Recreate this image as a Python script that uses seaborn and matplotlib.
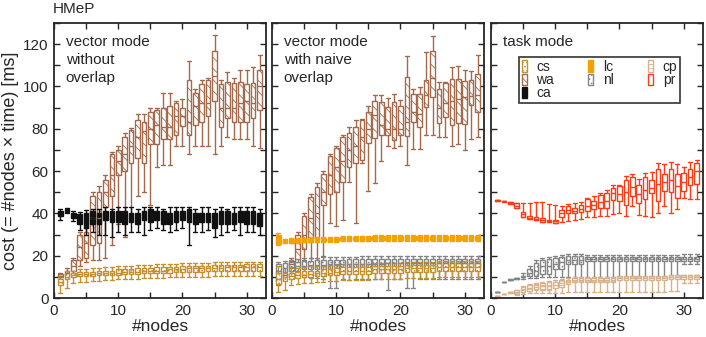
import matplotlib
matplotlib.use("Agg")
import matplotlib.pyplot as plt
import seaborn as sns
import numpy as np
import pandas as pd
from matplotlib.patches import Patch
from matplotlib.ticker import MultipleLocator

# ---------------- data (whislo, q1, median, q3, whishi) per node count ----------------
nodes = list(range(1, 33))

wa_no = [(9,10,10.5,11.5,12),(10,11,12,13,14),(11,13,15,18,19),(15,18,24,30,31),
         (17,19,26,31,33),(18,25,38,48,50),(18,26,38,50,53),(19,43,50,56,58),
         (25,48,58,68,69),(35,58,65,70,72),(29,60,68,76,78),(38,64,72,79.5,80.5),
         (48,66,76,84,87),(50,64,79,83,87),(44,73,80,88,90),(62,73,82,89,90),
         (63,75,81,90,97),(63,75,81,91,97),(72,77,86,92,93),(72,81.5,86,90,94),
         (68,77,83,103,112),(72,82,91,97,99),(72,83,92,101,103),(72,86,92,103,104),
         (68,93,105,117,124.5),(72,81,90,101,103),(76,85,90,102,107),(75,83,90,101.5,104),
         (75,83,92,102,108),(75,83,93,101,108),(72,85,92,101.5,109),(71,89,100,108,115)]

cs_no = [(2.5,6,7.5,9,10.5),(4.5,9,10,12,13),(7,10,11,12,13),(7.5,10.5,11.5,12.5,13.5),
         (7.5,10.5,11.5,12.5,13.5),(8,10.5,11.5,12.5,14),(8,11,12,13,14),(8.5,11,12,13,14.5),
         (8.5,11,12,13,14.5),(9,11,12,13.5,15),(9,11.5,12.5,13.5,15),(9,11.5,12.5,13.5,15),
         (9,11.5,12.5,14,15.5),(9.5,12,13,14,15.5),(9.5,12,13,14,15.5),(9.5,12,13,14.5,16),
         (9.5,12,13,14.5,16),(10,12,13.5,14.5,16),(10,12.5,13.5,14.5,16),(10,12.5,13.5,15,16.5),
         (10,12.5,14,15,16.5),(10,12.5,14,15,16.5),(10,12.5,14,15,16.5),(10,13,14,15,16.5),
         (10.5,13,14,15.5,17),(10.5,13,14,15.5,17),(10.5,13,14.5,15.5,17),(10.5,13,14.5,15.5,17),
         (10.5,13,14.5,15.5,17),(10.5,13,14.5,16,17),(10.5,13,14.5,16,17),(10.5,13,14.5,16,17)]

ca_no = [(37,39,40,41,42),(40,40.5,41.5,42.2,42.5),(36.5,38,39,40.3,41),(32,35,37,39.5,40.5),
         (30,33,36,40,41.5),(31,35,38,41,42),(30,35,37,40,42),(30,37,39,41,43),
         (29,36,38,41,42),(31,36,39,41,43),(30,35,38,41,43),(31,36,38,40,43),
         (31,35,37,40,42),(30,37,39,41,43),(32,36,39,42,43),(33,37,39,41,43),
         (32,35,38,41,42),(31,35,38,40,43),(32,36,39,41,43),(33,37,39,41,43),
         (25,36,39,42,43),(31,35,38,40,42),(31,36,38,40,43),(32,36,38,40,43),
         (29,33,37,40,42),(30,35,38,41,43),(31,35,38,41,42),(32,35,37,40,43),
         (30,36,38,41,43),(31,35,38,41,43),(31,35,38,41,43),(30,34,37,40,42)]

wa_naive = [(6,8,9,11,12),(9,10,11,12,13),(13,15,16,17.5,19),(15,16,23,30,31),
            (18,23,30,38.7,40),(19,28,38,47.7,49),(18,28.6,40,52.4,54.4),(20,44,50,58.4,60),
            (35.6,49,58,67,68.2),(34,50,62,70.9,71.7),(36.7,55,65,76,77.2),(55,62,70,78,81),
            (35.6,64,72,81,84.2),(64,65.4,76,84.2,84.5),(50.5,73.2,80,88,91),(54.4,75.6,86.6,93.2,95.8),
            (64.6,77.2,82,92.5,95.8),(72,77.2,80,90.2,94.4),(71,74.8,80,92.8,96.6),(72,77.2,80,90.8,93.6),
            (63,76.7,83.4,104.4,114.4),(70.4,83.4,88,96.5,99),(70.4,81,87,96.3,99.9),(77,90.5,96,103,116.4),
            (77,95,104,116.7,124),(76,82.6,90,99,102.3),(76,85.8,92,101.8,102.3),(72,82,93,103.5,109.3),
            (73,82.7,94,103.5,109.5),(70,82.4,95,102.7,107.8),(75,91.3,95.5,103,107.5),(76,88,96,106,115)]

cs_naive = [(2.7,6.8,9,12,15),(4,8,10,12,14),(6,9,10.5,12,14),(6.5,9.5,11,12.5,14),
            (7,9.7,11,12.7,14.5),(7,10,11.5,13,15),(7.5,10.5,12,13,15),(7.5,10.5,12,13.5,15),
            (8,11,12,13.5,15.5),(8,11,12.5,14,15.5),(8.5,11.3,12.8,14.5,16),(8.5,11.3,12.8,14.5,16),
            (8.5,11.3,12.8,14.5,16),(8.5,11.5,13,14.5,16),(8.5,11.5,13,14.8,16),(9,12,13.5,15.2,16.5),
            (9,12,13.5,15.2,16.5),(9,12,13.5,15.2,16.5),(9,12,13.5,15.2,16.5),(9,12,13.5,15.2,16.5),
            (9.5,12.3,14,15.5,17),(9.5,12.3,14,15.5,17),(9.5,12.3,14,15.5,17),(9.5,12.3,14,15.5,17),
            (9.5,12.3,14,15.5,17),(9.7,12.9,14.5,16.5,17.5),(9.7,12.9,14.5,16.5,17.5),(9.7,12.9,14.5,16.5,17.5),
            (9.7,12.9,14.5,16.5,17.5),(9.7,12.9,14.5,16.5,17.5),(9.7,12.9,14.5,16.5,17.5),(9.7,12.9,14.5,16.5,17.5)]

nl_naive = [(10,11.3,13,16,17),(10.5,12.5,14,16.5,17.5),(11,13,14.5,17,18),(10,13,15,17,18.5),
            (10,13.5,15,17.5,19),(9.5,13.5,15.5,17.5,19),(9.5,13.7,15.5,18,19),(9,13.7,15.5,18,19.5),
            (4.6,13.7,16,18,19.5),(4.6,14,16,18.2,19.5),(9,14,16,18.2,19.5),(8.5,14,16,18.4,19.6),
            (9,14,16,18.4,19.6),(9,14.2,16.2,18.4,19.8),(9,14.2,16.2,18.4,19.8),(9,14.3,16.3,18.5,19.8),
            (9,14.3,16.3,18.5,20),(4,14.5,16.5,18.5,20),(9,14.5,16.5,18.6,20),(9,14.5,16.5,18.6,20),
            (4.6,14.5,16.5,18.6,20),(4.6,14.5,16.5,18.6,20),(9,14.5,16.5,18.6,20),(9,14.5,16.5,18.6,20),
            (9,14.5,16.5,18.6,20),(9,14.5,16.5,18.6,20),(9,14.5,16.5,18.6,20),(9,14.5,16.5,18.6,20),
            (9,14.5,16.5,18.6,20),(9,14.5,16.5,18.6,20),(9,14.5,16.5,18.6,20),(9,14.5,16.5,18.6,20)]

lc_naive = [(25,25.6,28,29.7,30.5),(26,26.3,26.8,27.3,27.8),(26,26.2,26.8,27.8,28.2),(26.2,26.5,27,28,28.5),
            (26.3,26.6,27.2,28,28.6),(26.4,26.7,27.3,28.2,28.8),(26.5,26.8,27.5,28.4,29),(26.5,26.8,27.5,28.4,29),
            (26.5,26.8,27.5,28.4,29),(26.5,26.8,27.5,28.4,29),(26.8,27.2,27.8,28.8,29.5),(26.8,27.2,27.8,28.8,29.5),
            (26.8,27.2,27.8,28.8,29.5),(26.8,27.2,27.8,28.8,29.5),(26.8,27.2,27.8,28.8,29.5),(27,27.5,28.2,29.2,30),
            (27,27.5,28.2,29.2,30),(27,27.5,28.2,29.2,30),(27,27.5,28.2,29.2,30),(27,27.5,28.2,29.2,30),
            (27,27.5,28.2,29.2,30),(27,27.5,28.2,29.2,30),(27,27.5,28.2,29.2,30),(27,27.5,28.2,29.2,30),
            (27,27.5,28.2,29.2,30),(27,27.5,28.2,29.2,30),(27,27.5,28.2,29.2,30),(27,27.5,28.2,29.2,30),
            (27,27.5,28.2,29.2,30),(27,27.5,28.2,29.2,30),(27,27.5,28.2,29.2,30),(27,27.5,28.2,29.2,30)]

pr_task = [(46,46,46.1,46.2,46.2),(45.6,45.7,45.8,45.9,46),(44.3,44.3,45,45.5,45.5),(42.6,42.6,43.5,45,45),
           (38.4,38.4,39.5,40.6,45),(37.5,37.5,38,38.7,45),(36.7,36.7,37.5,38.2,45.3),(36,36,37,37.9,45.3),
           (35.9,35.9,36.4,36.9,44.5),(35.6,35.6,36.2,36.7,44.2),(36,38.4,40,41.6,43.5),(36.5,40,41.5,43.5,44.5),
           (37,40.3,41.3,42.4,45),(37.5,40.6,42.2,43.8,45.3),(38.4,41.1,43.5,46.6,47.4),(38.4,42.2,44,45.8,48.2),
           (39,42.6,45.5,48.5,49.7),(39,42.6,46,49.7,51),(39.7,46.2,49.7,52.1,53.6),(40.3,45.8,49,52.9,53.6),
           (39,44.2,50,56,57.6),(43.4,48.2,52.5,57.3,58.4),(39.2,45,49,53.6,56.3),(39,47,51,57.3,58.9),
           (38.4,49.7,52,56,59.6),(40,45.8,54,60.8,63.9),(43.4,50.5,55,58.4,63.2),(40,50,56,61.1,64.3),
           (42,47.4,53,58.4,63.5),(47.4,50.5,55,58.9,61.9),(46.6,53.6,57,60.8,64.3),(46.6,54.1,60,64,65.4)]

nl_task = [(3,3,3,3,3),(7.7,7.7,7.7,7.7,7.7),(8.5,8.5,8.7,8.9,8.9),(9,9,9.3,9.6,9.6),
           (9,9.7,10,10.5,12),(9.5,10.2,12,13.5,15),(9.5,10.5,13,16.6,18),(10,11.3,15,18.2,19),
           (10,11.5,15,18.5,19.5),(10,13.5,16,19,19.8),(9.7,13.5,17,19.6,20.3),(9.7,15.9,18,19.8,20.7),
           (9.7,15.9,18,19.8,20.7),(9.7,16,18,19.8,20.7),(9.7,17.4,18.5,19.6,20.5),(9.7,17.4,18.5,19.6,20.5),
           (9.7,17.4,18.5,19.6,20.5),(9.7,17.4,18.5,19.6,20.5),(9.7,17.4,18.5,19.6,20.5),(9.7,17.4,18.5,19.6,20.5),
           (9.7,17.4,18.5,19.6,20.5),(9.7,17.4,18.5,19.6,20.5),(9.7,17.4,18.5,19.6,20.5),(9.7,17.4,18.5,19.6,20.5),
           (9.7,17.4,18.5,19.6,20.5),(9.7,17.4,18.5,19.6,20.5),(9.7,17.4,18.5,19.6,20.5),(9.7,17.4,18.5,19.6,20.5),
           (9.7,17.4,18.5,19.6,20.5),(16,17.4,18.5,19.6,20.7),(16,17.4,18.5,19.6,20.7),(16,17.4,18.5,19.6,20.7)]

cp_task = [(1.1,1.1,1.1,1.1,1.1),(1.9,1.9,1.9,1.9,1.9),(2.5,2.5,2.7,2.9,2.9),(1.5,1.9,2.8,3.7,4),
           (2,2.7,3.8,5,5.5),(2.5,3.4,4.5,6.1,6.5),(2.5,3.7,5,6.6,7),(2.5,4,5.5,7,7.5),
           (2.5,3.9,5.5,7.4,8.2),(2.5,4.6,6,7.7,8.5),(2.5,5,7,8.7,9.2),(3,6.6,7.5,8.5,9.3),
           (3,7.4,8.3,9.3,9.7),(3,7.4,8.3,9.3,9.7),(3,7.4,8.3,9.3,9.7),(3,7.4,8.3,9.3,9.7),
           (3,7.4,8.3,9.3,9.7),(3,7.4,8.3,9.3,9.7),(3,7.4,8.3,9.3,9.7),(3,8.7,9.5,10.2,10.6),
           (3,8.7,9.5,10.2,10.6),(3,8.7,9.5,10.2,10.6),(3,8.7,9.5,10.2,10.6),(3,8.7,9.5,10.2,10.6),
           (3,8.7,9.5,10.2,10.6),(3,8.7,9.5,10.2,10.6),(3,8.7,9.5,10.2,10.6),(3.5,9,10,10.8,11),
           (3.5,9,10,10.8,11),(7,9,10,10.8,11),(7,9,10,10.8,11),(7,9,10,10.8,11)]

series_labels = ["cs", "wa", "ca", "lc", "nl", "cp", "pr"]
panel_titles = ["vector mode\nwithout\noverlap", "vector mode\nwith naive\noverlap", "task mode"]

# ---------------- styles ----------------
STYLE = {
    "cs": dict(edge="#c4902f", face="white", hatch="...."),
    "wa": dict(edge="#a4694a", face="white", hatch="\\\\\\"),
    "ca": dict(edge="#111111", face="#111111", hatch=None),
    "lc": dict(edge="#f4a200", face="#f4a200", hatch=None),
    "nl": dict(edge="#858585", face="white", hatch="...."),
    "cp": dict(edge="#d8b28c", face="white", hatch="----"),
    "pr": dict(edge="#ff3a14", face="white", hatch=None),
}

sns.set_style("ticks")
plt.rcParams["font.family"] = ["Liberation Sans", "DejaVu Sans"]
plt.rcParams["hatch.linewidth"] = 0.6
plt.rcParams["axes.linewidth"] = 1.3

fig = plt.figure(figsize=(7.06, 3.37), dpi=100)
lefts = [54 / 706, 272 / 706, 491 / 706]
axes = [fig.add_axes([l, 39 / 337, 212 / 706, 275 / 337]) for l in lefts]


def draw(ax, stats, key):
    st = STYLE[key]
    df = pd.DataFrame({"nodes": np.repeat(nodes, 5),
                       "cost": np.ravel(np.array(stats, dtype=float))})
    n0 = len(ax.patches)
    sns.boxplot(data=df, x="nodes", y="cost", native_scale=True, whis=np.inf,
                width=0.72, color=st["face"], linecolor=st["edge"], linewidth=1.0,
                saturation=1, fill=True, showfliers=False, capwidths=0.62, ax=ax)
    if st["hatch"]:
        for p in ax.patches[n0:]:
            p.set_hatch(st["hatch"])


# panel 1
draw(axes[0], wa_no, "wa")
draw(axes[0], ca_no, "ca")
draw(axes[0], cs_no, "cs")
# panel 2
draw(axes[1], wa_naive, "wa")
draw(axes[1], nl_naive, "nl")
draw(axes[1], cs_naive, "cs")
draw(axes[1], lc_naive, "lc")
# panel 3
draw(axes[2], nl_task, "nl")
draw(axes[2], cp_task, "cp")
draw(axes[2], pr_task, "pr")

for i, ax in enumerate(axes):
    ax.set_xlim(0, 33)
    ax.set_ylim(0, 130)
    ax.xaxis.set_major_locator(MultipleLocator(10))
    ax.xaxis.set_minor_locator(MultipleLocator(5))
    ax.yaxis.set_major_locator(MultipleLocator(20))
    ax.yaxis.set_minor_locator(MultipleLocator(10))
    ax.tick_params(which="both", direction="in", top=True, right=True,
                   length=4, width=1.0, labelsize=11, pad=4)
    for s in ax.spines.values():
        s.set_visible(True)
        s.set_linewidth(1.3)
    ax.set_xlabel("#nodes", fontsize=12.5, labelpad=1)
    if i == 0:
        ax.set_ylabel("cost (= #nodes \u00d7 time) [ms]", fontsize=13, labelpad=3)
    else:
        ax.set_ylabel("")
        ax.tick_params(labelleft=False)
    ax.text(0.055, 0.955, panel_titles[i], transform=ax.transAxes, ha="left",
            va="top", fontsize=11, linespacing=1.35)

fig.text(53 / 706, 1 - 9 / 337, "HMeP", ha="left", va="center", fontsize=11)

handles = []
for key in series_labels:
    st = STYLE[key]
    handles.append(Patch(facecolor=st["face"], edgecolor=st["edge"],
                         hatch=st["hatch"], linewidth=1.0, label=key))
leg = axes[2].legend(handles=handles, ncol=3, loc="upper left",
                     bbox_to_anchor=(0.132, 0.876, 0.76, 0.0), mode="expand",
                     fontsize=10, handlelength=0.35, handleheight=0.9,
                     handletextpad=0.7, columnspacing=2.0, labelspacing=-0.05,
                     borderpad=0.2, frameon=True, fancybox=False, borderaxespad=0)
leg.get_frame().set_edgecolor("black")
leg.get_frame().set_linewidth(1.2)

fig.savefig("out.png", dpi=100)
